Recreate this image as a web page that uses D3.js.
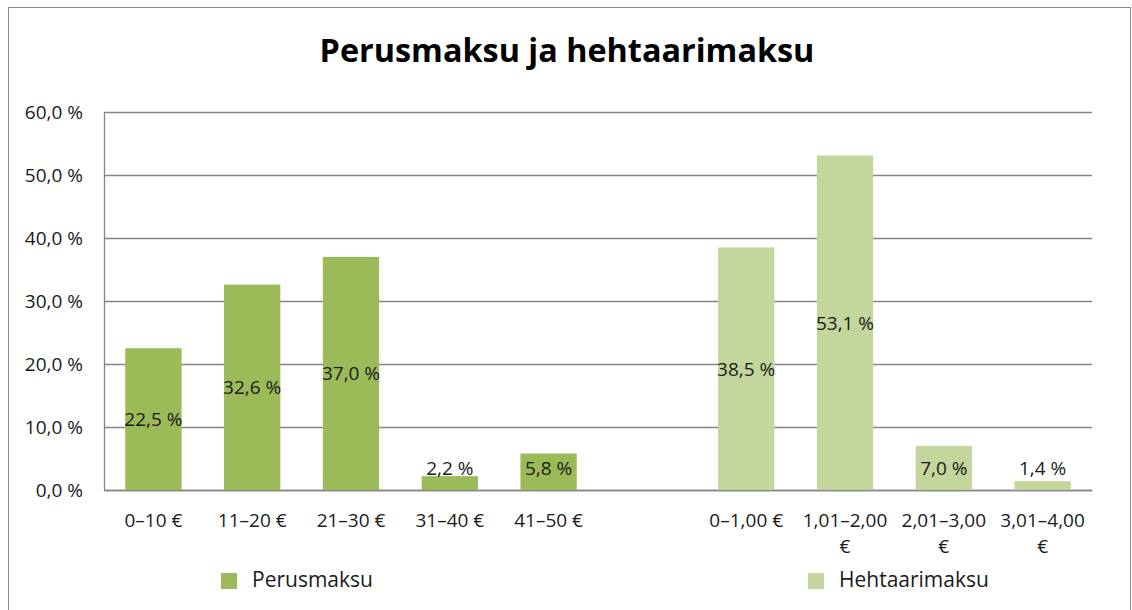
<!DOCTYPE html>
<html>
<head>
<meta charset="utf-8">
<script src="https://cdn.jsdelivr.net/npm/d3@7"></script>
<style>
  body { margin: 0; background: #fff; }
  text { font-family: "Open Sans", "Liberation Sans", sans-serif; fill: #1a1a1a; }
</style>
</head>
<body>
<div id="chart"></div>
<script>
// data
var perusCategories = ["0–10 €", "11–20 €", "21–30 €", "31–40 €", "41–50 €"];
var hehtaariCategories = ["0–1,00 €", "1,01–2,00 €", "2,01–3,00 €", "3,01–4,00 €"];
var perusmaksu = [22.5, 32.6, 37.0, 2.2, 5.8];
var hehtaarimaksu = [38.5, 53.1, 7.0, 1.4];
var yTicks = [0, 10, 20, 30, 40, 50, 60];
var seriesNames = ["Perusmaksu", "Hehtaarimaksu"];
var title = "Perusmaksu ja hehtaarimaksu";

var svgWidth = 1132;
var svgHeight = 610;
var margin = { top: 112, left: 104, right: 40, bottom: 120 };
var width = 1092 - margin.left;
var height = 490 - margin.top;

var colors = ["#9bbb59", "#c3d69b"];

var svg = d3.select("#chart").append("svg")
  .attr("width", svgWidth)
  .attr("height", svgHeight);

// outer chart border
svg.append("rect")
  .attr("x", 8.5).attr("y", 7.5)
  .attr("width", 1122).attr("height", 620)
  .attr("fill", "none")
  .attr("stroke", "#8c8c8c");

// title, fitted to the width it has in the picture
var titleText = svg.append("text")
  .attr("x", 567).attr("y", 62)
  .attr("text-anchor", "middle")
  .attr("font-weight", "bold")
  .attr("font-size", 30)
  .style("fill", "#000")
  .text(title);
var tw = titleText.node().getComputedTextLength();
titleText.attr("font-size", 30 * 495 / tw);

// one spacer slot between the two groups
var domain = perusCategories.concat(["_gap"], hehtaariCategories);

var xScale = d3.scaleBand()
  .domain(domain)
  .range([0, width])
  .paddingInner(0.43)
  .paddingOuter(0.215);

var yScale = d3.scaleLinear()
  .domain([0, 60])
  .range([height, 0]);

var chartGroup = svg.append("g")
  .attr("transform", `translate(${margin.left}, ${margin.top})`);

// gridlines
var grid = chartGroup.append("g")
  .call(d3.axisLeft(yScale).tickValues(yTicks).tickSize(-width).tickFormat(""));
grid.select(".domain").remove();
grid.selectAll("line").attr("stroke", "#858585").attr("stroke-width", 1.3);

var fmt = function(v) { return d3.format(".1f")(v).replace(".", ",") + " %"; };

// y axis
var yAxis = chartGroup.append("g")
  .call(d3.axisLeft(yScale).tickValues(yTicks).tickSize(0).tickPadding(21).tickFormat(fmt));
yAxis.select(".domain").attr("stroke", "#858585").attr("stroke-width", 1.3);
yAxis.selectAll("text").attr("font-size", 19).style("font-family", "Open Sans").attr("dy", "0.35em");

// x axis
var xAxis = chartGroup.append("g")
  .attr("transform", `translate(0, ${height})`)
  .call(d3.axisBottom(xScale).tickSize(0).tickPadding(0).tickFormat(d => d === "_gap" ? "" : d));
xAxis.select(".domain").attr("stroke", "#858585").attr("stroke-width", 1.6);
xAxis.selectAll("text")
  .attr("font-size", 19)
  .style("font-family", "Open Sans")
  .attr("y", 37)
  .attr("dy", 0)
  .each(function(d) {
    var t = d3.select(this);
    if (d.length > 9) {
      var cut = d.lastIndexOf(" ");
      t.text(null);
      t.append("tspan").attr("x", 0).attr("y", 37).text(d.slice(0, cut));
      t.append("tspan").attr("x", 0).attr("y", 63).text(d.slice(cut + 1));
    }
  });

// bars
var groups = [
  { name: seriesNames[0], cats: perusCategories, values: perusmaksu, color: colors[0] },
  { name: seriesNames[1], cats: hehtaariCategories, values: hehtaarimaksu, color: colors[1] }
];

groups.forEach(function(g) {
  var rows = g.cats.map((c, i) => ({ cat: c, value: g.values[i] }));

  chartGroup.selectAll(null)
    .data(rows)
    .enter()
    .append("rect")
    .attr("x", d => xScale(d.cat))
    .attr("y", d => yScale(d.value))
    .attr("width", xScale.bandwidth())
    .attr("height", d => height - yScale(d.value))
    .attr("fill", g.color);

  // labels sit in the middle of the bar, but not lower than a fixed line
  chartGroup.selectAll(null)
    .data(rows)
    .enter()
    .append("text")
    .attr("x", d => xScale(d.cat) + xScale.bandwidth() / 2)
    .attr("y", d => Math.min((yScale(d.value) + height) / 2, height - 22))
    .attr("dy", "0.36em")
    .attr("text-anchor", "middle")
    .attr("font-size", 19)
    .text(d => fmt(d.value));
});

// legend
var legend = [
  { name: seriesNames[0], color: colors[0], x: 221 },
  { name: seriesNames[1], color: colors[1], x: 808 }
];
legend.forEach(function(l) {
  svg.append("rect")
    .attr("x", l.x).attr("y", 573)
    .attr("width", 16).attr("height", 16)
    .attr("fill", l.color);
  svg.append("text")
    .attr("x", l.x + 31).attr("y", 587)
    .attr("font-size", 21)
    .text(l.name);
});
</script>
</body>
</html>
